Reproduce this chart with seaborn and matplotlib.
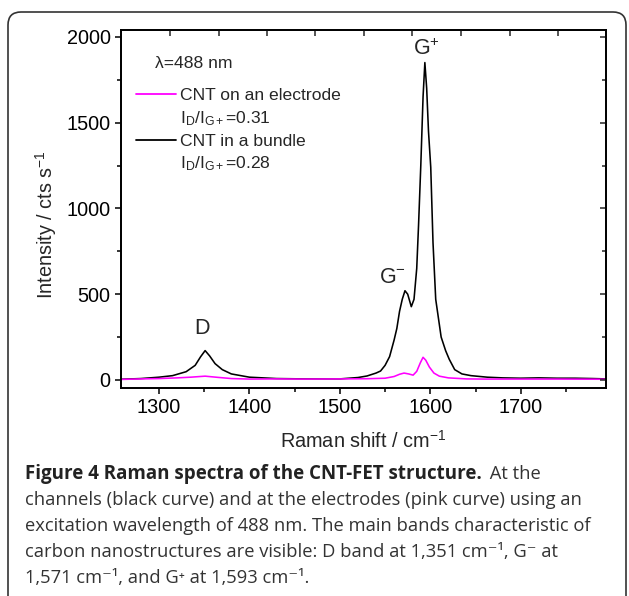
import matplotlib
matplotlib.use("Agg")
import matplotlib.pyplot as plt
from matplotlib.patches import FancyBboxPatch
from matplotlib.lines import Line2D
from matplotlib.ticker import MultipleLocator
import seaborn as sns
import pandas as pd

# Raman spectra (shift in cm^-1, intensity in cts/s)
bundle_shift = [1258, 1280, 1300, 1315, 1330, 1340, 1346, 1351, 1356, 1362,
                1370, 1380, 1400, 1430, 1460, 1500, 1520, 1530, 1540, 1545,
                1550, 1555, 1560, 1563, 1566, 1569, 1572, 1575, 1579, 1582,
                1585, 1587, 1589.5, 1592, 1594, 1596, 1598, 1600.5, 1603, 1606,
                1609, 1612, 1617, 1621, 1627, 1635, 1645, 1663, 1680, 1700,
                1720, 1740, 1760, 1780, 1794]
bundle_counts = [4, 8, 16, 25, 48, 85, 135, 171, 140, 95,
                 60, 35, 16, 8, 6, 6, 14, 23, 40, 52,
                 85, 136, 233, 300, 400, 470, 520, 500, 427, 470,
                 650, 900, 1250, 1650, 1850, 1700, 1450, 1240, 800, 470,
                 360, 250, 170, 120, 60, 35, 25, 16, 12, 10,
                 12, 10, 10, 8, 6]

electrode_shift = [1258, 1280, 1300, 1320, 1335, 1351, 1365, 1380, 1400, 1430,
                   1460, 1500, 1530, 1550, 1560, 1566, 1571, 1576, 1581, 1585,
                   1589, 1592, 1595, 1599, 1604, 1610, 1620, 1640, 1660, 1700,
                   1740, 1794]
electrode_counts = [3, 6, 8, 12, 16, 22, 15, 8, 5, 6,
                    5, 6, 7, 10, 20, 33, 40, 35, 28, 50,
                    100, 132, 115, 75, 40, 22, 12, 6, 5, 5,
                    5, 4]

series_names = ["CNT on an electrode", "CNT in a bundle"]
ratio_labels = [r"I$_{\mathrm{D}}$/I$_{\mathrm{G+}}$=0.31",
                r"I$_{\mathrm{D}}$/I$_{\mathrm{G+}}$=0.28"]
series_colors = ["#ff00ff", "black"]

x_ticks = [1300, 1400, 1500, 1600, 1700]
y_ticks = [0, 500, 1000, 1500, 2000]
top_ticks = [1312, 1366, 1419, 1473, 1527, 1580, 1634, 1688, 1741]

caption_bold = "Figure 4 Raman spectra of the CNT-FET structure."
caption_lines = [
    "channels (black curve) and at the electrodes (pink curve) using an",
    "excitation wavelength of 488 nm. The main bands characteristic of",
    "carbon nanostructures are visible: D band at 1,351 cm\u207b\u00b9, G\u207b at",
    "1,571 cm\u207b\u00b9, and G\u207a at 1,593 cm\u207b\u00b9.",
]

sns.set_style("ticks")
plt.rcParams['font.family'] = ['Liberation Sans', 'DejaVu Sans']
plt.rcParams['mathtext.fontset'] = 'custom'
plt.rcParams['mathtext.rm'] = 'Liberation Sans'
plt.rcParams['mathtext.it'] = 'Liberation Sans:italic'
plt.rcParams['mathtext.bf'] = 'Liberation Sans:bold'
plt.rcParams['axes.linewidth'] = 1.1

bundle = pd.DataFrame({'shift': bundle_shift, 'counts': bundle_counts})
electrode = pd.DataFrame({'shift': electrode_shift, 'counts': electrode_counts})

fig = plt.figure(figsize=(6.29, 5.96), dpi=100)
ax = fig.add_axes([0.1924, 0.349, 0.7706, 0.6007])

sns.lineplot(data=bundle, x='shift', y='counts', ax=ax, color=series_colors[1],
             lw=1.15, sort=False, estimator=None)
sns.lineplot(data=electrode, x='shift', y='counts', ax=ax, color=series_colors[0],
             lw=1.15, sort=False, estimator=None)

ax.set_xlim(1258, 1794)
ax.set_ylim(-47, 2040)
ax.set_xticks(x_ticks)
ax.set_yticks(y_ticks)
ax.xaxis.set_minor_locator(MultipleLocator(50))
ax.yaxis.set_minor_locator(MultipleLocator(250))
ax.tick_params(which='both', direction='out', width=1.1, labelsize=14.3, colors='black')
ax.tick_params(which='major', length=4.5, pad=3)
ax.tick_params(which='minor', length=3)
ax.set_xlabel(r"Raman shift / cm$^{-1}$", fontsize=14.3, labelpad=9)
ax.set_ylabel(r"Intensity / cts s$^{-1}$", fontsize=14.3)
ax.yaxis.set_label_coords(-0.128, 0.455)

# mirrored ticks pointing inward on the right and top
ax_r = ax.twinx()
ax_r.set_ylim(ax.get_ylim())
ax_r.set_yticks(y_ticks)
ax_r.yaxis.set_minor_locator(MultipleLocator(250))
ax_r.tick_params(axis='y', which='both', direction='in', width=1.1, labelright=False)
ax_r.tick_params(axis='y', which='major', length=4.5)
ax_r.tick_params(axis='y', which='minor', length=3)

ax_t = ax.twiny()
ax_t.set_xlim(ax.get_xlim())
ax_t.set_xticks(top_ticks)
ax_t.tick_params(axis='x', direction='in', width=1.1, length=4, labeltop=False)

for a in (ax, ax_r, ax_t):
    for s in a.spines.values():
        s.set_linewidth(1.1)
        s.set_color('black')

# band labels
ax.text(1348, 300, "D", fontsize=15.5, ha='center', va='center')
ax.text(1558, 600, r"G$^{-}$", fontsize=15.5, ha='center', va='center')
ax.text(1596, 1925, r"G$^{+}$", fontsize=15.5, ha='center', va='center')

ax.text(0.070, 0.905, "\u03bb=488 nm", transform=ax.transAxes, fontsize=12.6,
        ha='left', va='center')

handles = [Line2D([], [], color=series_colors[0], lw=1.3),
           Line2D([], [], color='none'),
           Line2D([], [], color=series_colors[1], lw=1.3),
           Line2D([], [], color='none')]
labels = [series_names[0], ratio_labels[0], series_names[1], ratio_labels[1]]
ax.legend(handles, labels, loc='upper left', bbox_to_anchor=(0.031, 0.838),
          frameon=False, fontsize=12.6, borderpad=0, borderaxespad=0,
          handlelength=2.3, handletextpad=0.2, labelspacing=0.33)

# caption
cap_font = ['Open Sans', 'DejaVu Sans']
x0 = 25 / 629
line_y = [474, 500, 526, 552, 578]
t_bold = fig.text(x0, 1 - line_y[0] / 596, caption_bold, family=cap_font,
                  fontweight='bold', fontsize=13.5, color='#222222', va='center')
fig.canvas.draw()
bb = t_bold.get_window_extent(renderer=fig.canvas.get_renderer())
fig.text((bb.x1 + 3) / fig.bbox.width, 1 - line_y[0] / 596, " At the", family=cap_font,
         fontsize=13.2, color='#333333', va='center')
for yy, line in zip(line_y[1:], caption_lines):
    fig.text(x0, 1 - yy / 596, line, family=cap_font, fontsize=13.2,
             color='#333333', va='center')

# rounded frame around the figure panel
frame = FancyBboxPatch((0.08, -0.3), 6.18, 6.14,
                       boxstyle="round,pad=0,rounding_size=0.13",
                       transform=fig.dpi_scale_trans, fill=False,
                       ec='#333333', lw=1.2, clip_on=False)
fig.add_artist(frame)

fig.savefig('out.png', dpi=100)
